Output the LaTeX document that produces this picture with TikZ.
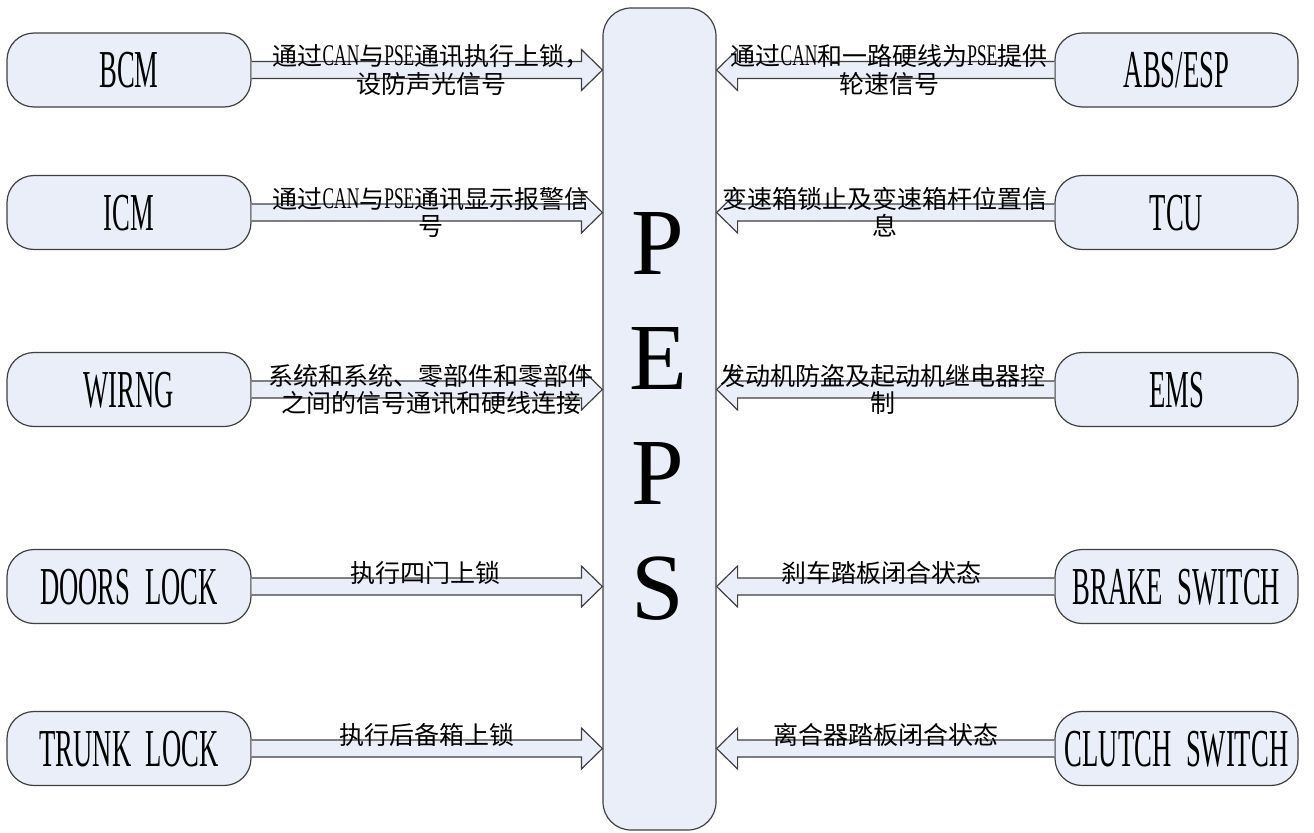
\documentclass[tikz,border=0pt]{standalone}
\usepackage{fontspec}
\setmainfont{Liberation Serif}
\newfontfamily\cjk{Noto Sans CJK SC}
\newfontfamily\narrowfnt[FakeStretch=0.5]{Liberation Serif}
\newfontfamily\narrowlab[FakeStretch=0.58]{Liberation Serif}
\usetikzlibrary{calc}
\definecolor{boxfill}{RGB}{233,238,248}
\definecolor{boxline}{RGB}{64,64,64}
\newcommand\lat[1]{{\narrowlab\fontsize{22.5pt}{22.5pt}\selectfont #1}}
\newcommand\arrowL[1]{%
  \filldraw[arr] ($(#1.east)+(0,-8.5)$) -- ($(peps.west |- #1.east)+(-21,-8.5)$) -- ++(0,-12)
    -- (peps.west |- #1.east) -- ++(-21,20.5) -- ++(0,-12) -- ($(#1.east)+(0,8.5)$);}
\newcommand\arrowR[1]{%
  \filldraw[arr] ($(#1.west)+(0,-8.5)$) -- ($(peps.east |- #1.west)+(21,-8.5)$) -- ++(0,-12)
    -- (peps.east |- #1.west) -- ++(21,20.5) -- ++(0,-12) -- ($(#1.west)+(0,8.5)$);}
\begin{document}
\begin{tikzpicture}[x=0.75pt,y=-0.75pt,
  unitbox/.style={draw=boxline, fill=boxfill, line width=0.9pt, rounded corners=20.25pt,
    minimum width=183pt, minimum height=55.5pt, inner sep=0pt, text height=26.5pt, text depth=0pt,
    font=\narrowfnt\fontsize{40pt}{40pt}\selectfont},
  pepsbox/.style={draw=boxline, fill=boxfill, line width=0.9pt, rounded corners=21pt,
    minimum width=84.75pt, minimum height=616.5pt, inner sep=0pt},
  pepsletter/.style={inner sep=0pt, font=\fontsize{71pt}{71pt}\selectfont},
  arr/.style={draw=boxline, fill=boxfill, line width=0.9pt, line join=miter},
  lab/.style={inner sep=0pt, anchor=base, font=\cjk\fontsize{18.75pt}{18.75pt}\selectfont}
]
\useasboundingbox (0,0) rectangle (1314,832);

% central box
\node[pepsbox] (peps) at (659.5,419) {};
\node[pepsletter] (l1) at (658,243.5) {P};
\node[pepsletter] (l2) at (658,358.5) {E};
\node[pepsletter] (l3) at (658,473) {P};
\node[pepsletter] (l4) at (658,588.5) {S};

% left units
\node[unitbox] (bcm)   at (129,70)    {BCM};
\node[unitbox] (icm)   at (129,212.5) {ICM};
\node[unitbox] (wirng) at (129,389.5) {WIRNG};
\node[unitbox] (doors) at (129,586.5) {DOORS \hspace{6pt}LOCK};
\node[unitbox] (trunk) at (129,748.5) {TRUNK \hspace{6pt}LOCK};

% right units
\node[unitbox, minimum width=182.25pt] (abs)    at (1176.5,70)    {ABS/ESP};
\node[unitbox, minimum width=182.25pt] (tcu)    at (1176.5,212.5) {TCU};
\node[unitbox, minimum width=182.25pt] (ems)    at (1176.5,389.5) {EMS};
\node[unitbox, minimum width=182.25pt] (brake)  at (1176.5,586.5) {BRAKE \hspace{6pt}SWITCH};
\node[unitbox, minimum width=182.25pt] (clutch) at (1176.5,748.5) {CLUTCH \hspace{6pt}SWITCH};

% arrows
\arrowL{bcm}
\arrowL{icm}
\arrowL{wirng}
\arrowL{doors}
\arrowL{trunk}
\arrowR{abs}
\arrowR{tcu}
\arrowR{ems}
\arrowR{brake}
\arrowR{clutch}

% left labels
\node[lab] (bcmA) at (431,65.5) {通过\lat{CAN}与\lat{PSE}通讯执行上锁，};
\node[lab] (bcmB) at (431,93) {设防声光信号};
\node[lab] (icmA) at (431,208) {通过\lat{CAN}与\lat{PSE}通讯显示报警信};
\node[lab] (icmB) at (431,235.5) {号};
\node[lab] (wirngA) at (431,385) {系统和系统、零部件和零部件};
\node[lab] (wirngB) at (431,412.5) {之间的信号通讯和硬线连接};
\node[lab] (doorsA) at (425,582) {执行四门上锁};
\node[lab] (trunkA) at (427,744) {执行后备箱上锁};

% right labels
\node[lab] (absA) at (889,65.5) {通过\lat{CAN}和一路硬线为\lat{PSE}提供};
\node[lab] (absB) at (889,93) {轮速信号};
\node[lab] (tcuA) at (885,208) {变速箱锁止及变速箱杆位置信};
\node[lab] (tcuB) at (885,235.5) {息};
\node[lab] (emsA) at (883,385) {发动机防盗及起动机继电器控};
\node[lab] (emsB) at (883,412.5) {制};
\node[lab] (brakeA) at (881,582) {刹车踏板闭合状态};
\node[lab] (clutchA) at (886,744) {离合器踏板闭合状态};
\end{tikzpicture}
\end{document}
